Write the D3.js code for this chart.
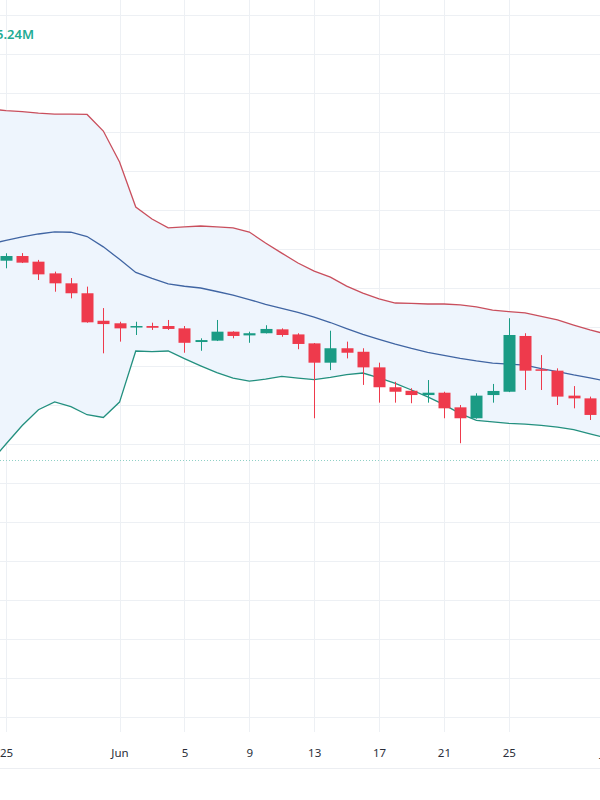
<!DOCTYPE html>
<html>
<head>
<meta charset="utf-8">
<script src="https://cdn.jsdelivr.net/npm/d3@7"></script>
<style>
html,body{margin:0;padding:0;background:#fff;}
svg{display:block;}
</style>
</head>
<body>
<svg id="chart" width="600" height="800"></svg>
<script>
// ---- data ----
const candleDates = d3.utcDays(new Date(Date.UTC(2024,4,25)), new Date(Date.UTC(2024,6,1)));
const opens  = [0.7140,0.7164,0.7135,0.7075,0.7024,0.6973,0.6832,0.6819,0.6798,0.6805,0.6805,0.6793,0.6723,0.6730,0.6776,0.6757,0.6768,0.6788,0.6762,0.6716,0.6617,0.6691,0.6673,0.6593,0.6491,0.6473,0.6451,0.6463,0.6388,0.6332,0.6451,0.6468,0.6754,0.6583,0.6576,0.6448,0.6434];
const highs  = [0.7178,0.7179,0.7144,0.7084,0.7051,0.7007,0.6897,0.6827,0.6827,0.6822,0.6836,0.6805,0.6742,0.6836,0.6778,0.6776,0.6809,0.6793,0.6768,0.6718,0.6781,0.6725,0.6691,0.6617,0.6519,0.6486,0.6528,0.6468,0.6400,0.6460,0.6508,0.6845,0.6768,0.6656,0.6588,0.6497,0.6443];
const lows   = [0.7101,0.7128,0.7041,0.6981,0.6947,0.6822,0.6665,0.6725,0.6759,0.6785,0.6785,0.6668,0.6678,0.6728,0.6742,0.6719,0.6767,0.6750,0.6686,0.6332,0.6579,0.6639,0.6503,0.6412,0.6412,0.6409,0.6412,0.6332,0.6204,0.6330,0.6412,0.6466,0.6477,0.6477,0.6400,0.6383,0.6323];
const closes = [0.7164,0.7130,0.7070,0.7024,0.6973,0.6824,0.6815,0.6793,0.6805,0.6796,0.6790,0.6719,0.6733,0.6776,0.6754,0.6768,0.6790,0.6759,0.6713,0.6617,0.6691,0.6668,0.6593,0.6491,0.6468,0.6451,0.6463,0.6383,0.6332,0.6448,0.6472,0.6759,0.6576,0.6576,0.6443,0.6434,0.6349];

const bandDates = d3.utcDays(new Date(Date.UTC(2024,4,24)), new Date(Date.UTC(2024,6,2)));
const upperBand = [0.7918,0.7910,0.7905,0.7897,0.7892,0.7892,0.7890,0.7805,0.7646,0.7415,0.7354,0.7308,0.7313,0.7318,0.7313,0.7308,0.7287,0.7231,0.7179,0.7128,0.7087,0.7056,0.7010,0.6974,0.6944,0.6923,0.6921,0.6918,0.6918,0.6913,0.6903,0.6887,0.6879,0.6872,0.6854,0.6836,0.6810,0.6785,0.6764];
const basisBand = [0.7226,0.7244,0.7262,0.7277,0.7288,0.7286,0.7264,0.7211,0.7147,0.7080,0.7049,0.7021,0.7009,0.7000,0.6982,0.6963,0.6941,0.6916,0.6895,0.6875,0.6851,0.6823,0.6792,0.6762,0.6736,0.6712,0.6690,0.6670,0.6654,0.6639,0.6626,0.6615,0.6610,0.6604,0.6587,0.6571,0.6554,0.6539,0.6523];
const lowerBand = [0.6103,0.6200,0.6295,0.6376,0.6416,0.6392,0.6350,0.6336,0.6415,0.6677,0.6674,0.6677,0.6638,0.6601,0.6566,0.6538,0.6522,0.6533,0.6547,0.6538,0.6530,0.6542,0.6556,0.6564,0.6539,0.6511,0.6477,0.6442,0.6402,0.6356,0.6321,0.6313,0.6306,0.6302,0.6296,0.6287,0.6274,0.6252,0.6231];

const tickDates = [
  new Date(Date.UTC(2024,4,25)), new Date(Date.UTC(2024,5,1)), new Date(Date.UTC(2024,5,5)),
  new Date(Date.UTC(2024,5,9)), new Date(Date.UTC(2024,5,13)), new Date(Date.UTC(2024,5,17)),
  new Date(Date.UTC(2024,5,21)), new Date(Date.UTC(2024,5,25)), new Date(Date.UTC(2024,6,1))
];
const tickLabels = ["25","Jun","5","9","13","17","21","25","Jul"];
const priceTicks = d3.range(0.48, 0.8401, 0.02);
const refPrice = 0.6118;
const volumeLabel = "5.24M";

// ---- layout ----
const svg = d3.select("#chart");
const W = 600, plotBottom = 732;
const dayPx = 16.22;
const x = d3.scaleUtc()
  .domain([new Date(Date.UTC(2024,4,25)), new Date(Date.UTC(2024,5,30))])
  .range([6, 6 + dayPx*36]);
const y = d3.scaleLinear().domain([0.48, 0.84]).range([717, 15]);

svg.append("defs").append("clipPath").attr("id","plot")
  .append("rect").attr("x",0).attr("y",0).attr("width",W).attr("height",plotBottom);

// gridlines
const grid = svg.append("g");
grid.selectAll("line.h").data(priceTicks).join("line")
  .attr("x1",0).attr("x2",W)
  .attr("y1",d=>Math.round(y(d))+0.5).attr("y2",d=>Math.round(y(d))+0.5)
  .attr("stroke","#edf0f4").attr("stroke-width",1);
grid.selectAll("line.v").data(tickDates).join("line")
  .attr("y1",0).attr("y2",plotBottom)
  .attr("x1",d=>Math.round(x(d))+0.5).attr("x2",d=>Math.round(x(d))+0.5)
  .attr("stroke","#edf0f4").attr("stroke-width",1);

svg.append("line").attr("x1",0).attr("x2",W).attr("y1",768.5).attr("y2",768.5)
  .attr("stroke","#eceef2");

const plot = svg.append("g").attr("clip-path","url(#plot)");

// bollinger fill
const bandData = bandDates.map((d,i)=>({d, u:upperBand[i], m:basisBand[i], l:lowerBand[i]}));
plot.append("path").datum(bandData)
  .attr("d", d3.area().x(d=>x(d.d)).y0(d=>y(d.l)).y1(d=>y(d.u)))
  .attr("fill","#eef5fd");

const line = key => d3.line().x(d=>x(d.d)).y(d=>y(d[key]));
plot.append("path").datum(bandData).attr("d",line("u"))
  .attr("fill","none").attr("stroke","#c94f5d").attr("stroke-width",1.3);
plot.append("path").datum(bandData).attr("d",line("m"))
  .attr("fill","none").attr("stroke","#4065a3").attr("stroke-width",1.3);
plot.append("path").datum(bandData).attr("d",line("l"))
  .attr("fill","none").attr("stroke","#23907f").attr("stroke-width",1.3);

// ref dotted line
plot.append("line").attr("x1",0).attr("x2",W)
  .attr("y1",Math.round(y(refPrice))+0.5).attr("y2",Math.round(y(refPrice))+0.5)
  .attr("stroke","#8fd0c6").attr("stroke-width",1).attr("stroke-dasharray","1,2");

// candles
const up = "#1a9b84", down = "#ee3a4c";
const candles = candleDates.map((d,i)=>({d,o:opens[i],h:highs[i],l:lows[i],c:closes[i]}));
const cg = plot.append("g").selectAll("g").data(candles).join("g");
cg.append("line")
  .attr("x1",d=>Math.round(x(d.d))+0.5).attr("x2",d=>Math.round(x(d.d))+0.5)
  .attr("y1",d=>y(d.h)).attr("y2",d=>y(d.l))
  .attr("stroke",d=>d.c>=d.o?up:down).attr("stroke-width",1);
const bw = 12;
cg.append("rect")
  .attr("x",d=>Math.round(x(d.d))-bw/2+0.5)
  .attr("width",bw)
  .attr("y",d=>y(Math.max(d.o,d.c)))
  .attr("height",d=>Math.max(1.5, Math.abs(y(d.o)-y(d.c))))
  .attr("fill",d=>d.c>=d.o?up:down);

// x-axis labels
const xAxis = d3.axisBottom(x).tickValues(tickDates).tickSize(0).tickPadding(0)
  .tickFormat((d,i)=>tickLabels[i]);
const ax = svg.append("g").attr("transform","translate(0,749)").call(xAxis);
ax.select(".domain").remove();
ax.selectAll("text").attr("font-family","'Noto Sans', 'DejaVu Sans', sans-serif")
  .attr("font-size",11.5).attr("fill","#2a2e39").attr("dy","0.71em");

// volume legend text
svg.append("text").attr("x",-4).attr("y",39).text(volumeLabel)
  .attr("font-family","'Noto Sans', 'DejaVu Sans', sans-serif")
  .attr("font-size",13).attr("font-weight",600).attr("fill","#22ab94");
</script>
</body>
</html>
